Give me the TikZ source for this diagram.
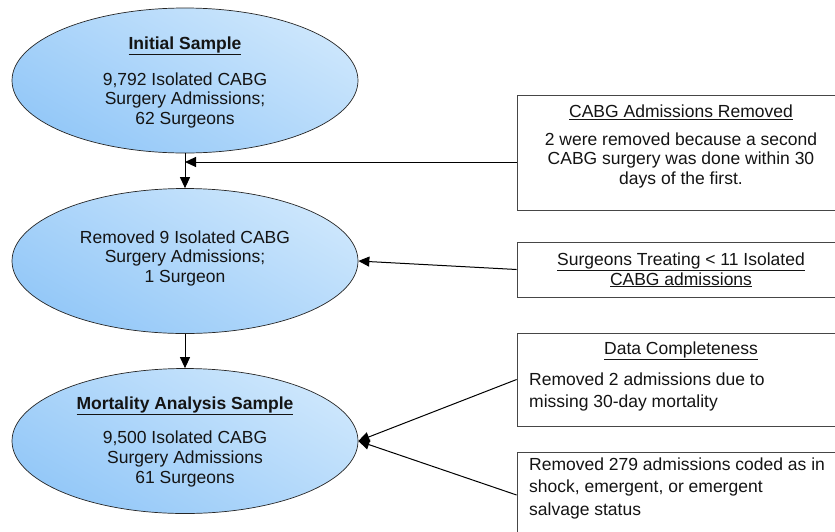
\documentclass[tikz,border=0pt]{standalone}
\usepackage{fontspec}
\setmainfont{Liberation Sans}
\usetikzlibrary{shapes.geometric,arrows.meta}
\definecolor{ellTop}{RGB}{204,230,252}
\definecolor{ellBot}{RGB}{148,200,248}
\definecolor{lineGray}{RGB}{70,70,70}
\definecolor{txt}{RGB}{20,20,20}
\begin{document}
\begin{tikzpicture}[x=1pt,y=-1pt,
  oval/.style={ellipse, draw=black!85, line width=0.7pt, minimum width=346pt, minimum height=145pt, inner sep=0pt, top color=ellTop, bottom color=ellBot, shading angle=-30},
  boxst/.style={rectangle, draw=lineGray, line width=0.8pt, fill=white, inner sep=0pt, minimum width=328pt},
  txtst/.style={inner sep=0pt, text=txt, font=\fontsize{17.5}{19.5}\selectfont},
  arr/.style={draw=black, line width=1pt, -{Triangle[length=11pt,width=10pt]}}
]
\useasboundingbox (0,0) rectangle (835,531);
\clip (0,0) rectangle (835,531);
\fill[white] (0,0) rectangle (835,531);

% ellipses
\node[oval] (e1) at (185,80.5) {};
\node[oval] (e2) at (185,261) {};
\node[oval] (e3) at (185,441) {};

% boxes
\node[boxst, minimum height=115pt] (b1) at (681,152.5) {};
\node[boxst, minimum height=55pt] (b2) at (681,269.5) {};
\node[boxst, minimum height=93pt] (b3) at (681,379.5) {};
\node[boxst, minimum height=86pt] (b4) at (681,495) {};

% ellipse texts
\node[txtst, font=\fontsize{17.5}{19.5}\selectfont\bfseries] (t1) at (185,46) {\underline{Initial Sample}};
\node[txtst, align=center] (t1b) at (185,100) {9,792 Isolated CABG\\ Surgery Admissions;\\62 Surgeons};
\node[txtst, align=center] (t2) at (185,258) {Removed 9 Isolated CABG\\Surgery Admissions;\\1 Surgeon};
\node[txtst, font=\fontsize{17.5}{19.5}\selectfont\bfseries] (t3) at (185,406) {\underline{Mortality Analysis Sample}};
\node[txtst, align=center, font=\fontsize{17.5}{20}\selectfont] (t3b) at (185,459) {9,500 Isolated CABG\\ Surgery Admissions\\61 Surgeons};

% box texts
\node[txtst] (bt1) at (681,112) {\underline{CABG Admissions Removed}};
\node[txtst, align=center] (bt1b) at (681,160) {2 were removed because a second\\CABG surgery was done within 30\\days of the first.};
\node[txtst, align=center] (bt2) at (681,270) {\underline{Surgeons Treating < 11 Isolated}\\\underline{CABG admissions}};
\node[txtst] (bt3) at (681,351) {\underline{Data Completeness}};
\node[txtst, align=left, anchor=west, font=\fontsize{17.5}{22}\selectfont] (bt3b) at (529,392) {Removed 2 admissions due to\\missing 30-day mortality};
\node[txtst, align=left, anchor=west, font=\fontsize{17.5}{22.5}\selectfont] (bt4) at (529,488) {Removed 279 admissions coded as in\\shock, emergent, or emergent\\salvage status};

% connectors
\coordinate (j1) at (185,162);
\draw[arr] (e1) -- (e2);
\draw[arr] (e2) -- (e3);
\draw[arr] (b1.west |- j1) -- (j1);
\draw[arr] (b2.west) -- (e2.east);
\draw[arr] (b3.west) -- (e3.east);
\draw[arr] (b4.west) -- (e3.east);
\end{tikzpicture}
\end{document}
